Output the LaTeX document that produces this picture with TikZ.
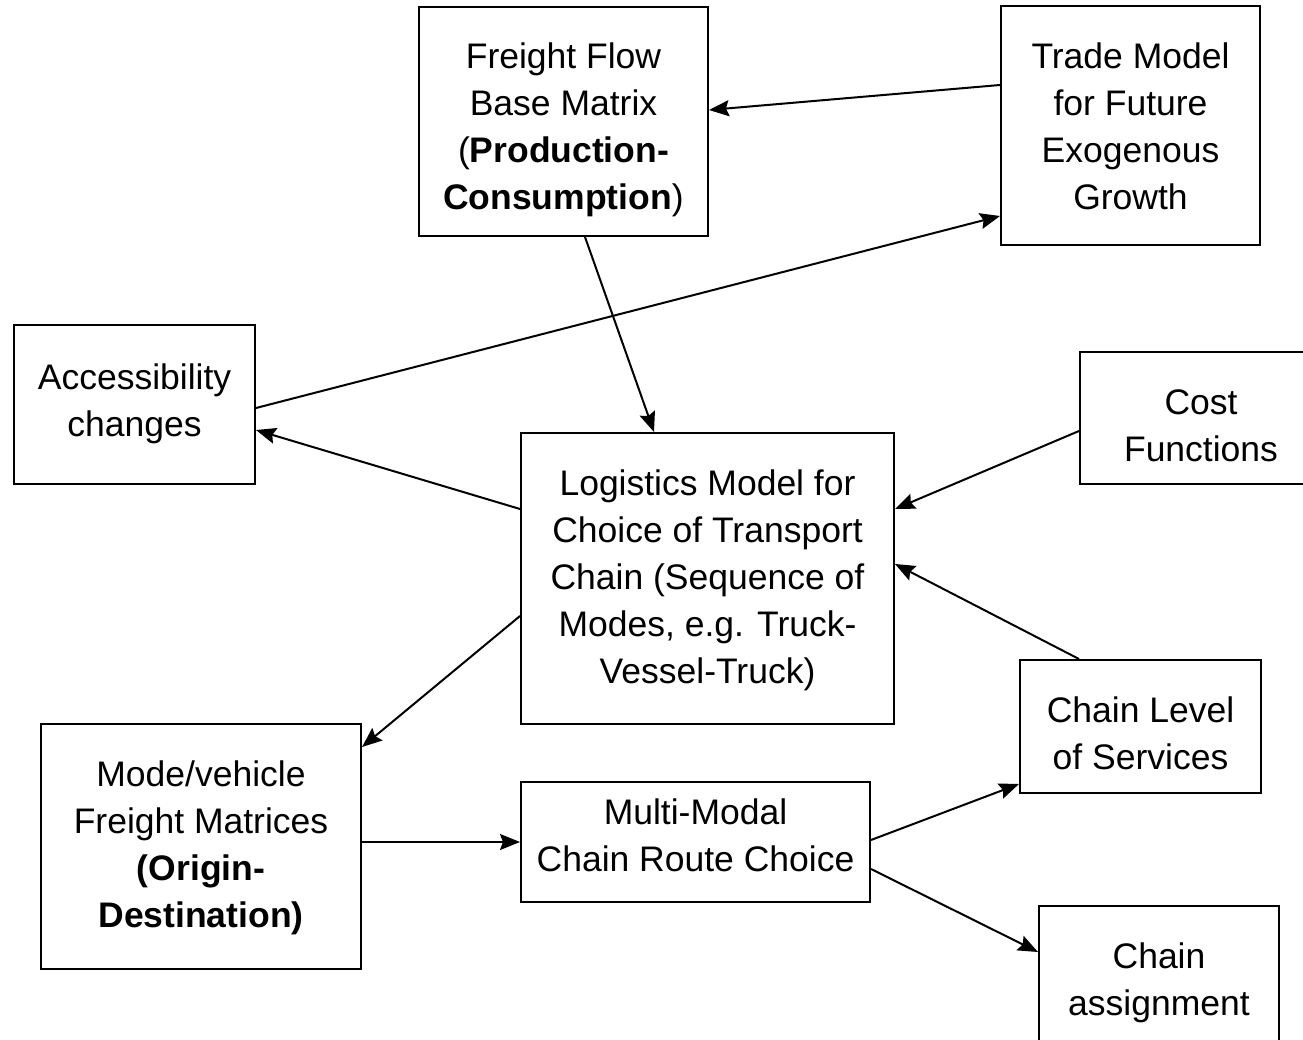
\documentclass[tikz,border=0pt]{standalone}
\usepackage{fontspec}
\setmainfont{Liberation Sans}
\usetikzlibrary{calc,arrows.meta}
\newcommand\boxtext[2]{\raisebox{\dimexpr-8pt-#1pt\relax}[0pt][0pt]{\begin{tabular}{@{}c@{}}#2\end{tabular}}}
\begin{document}
\begin{tikzpicture}[x=1pt,y=-1pt,
  box/.style={draw,line width=2pt,inner sep=0pt,font=\fontsize{35.5}{47}\selectfont},
  arr/.style={line width=2pt,-{Stealth[length=20pt,width=16pt,inset=3pt]}}]
\useasboundingbox (0,0) rectangle (1303,1040);
\clip (0,0) rectangle (1303,1040);
\fill[white] (0,0) rectangle (1303,1040);
\node[box,minimum width=289,minimum height=229] (ff) at (563.5,121.5)
  {\boxtext{6.5}{Freight Flow\\Base Matrix\\(\textbf{Production-}\\\textbf{Consumption})}};
\node[box,minimum width=259,minimum height=239] (trade) at (1130.5,125.5)
  {\boxtext{2.5}{Trade Model\\for Future\\Exogenous\\Growth}};
\node[box,minimum width=241,minimum height=159] (acc) at (134.5,404.5)
  {\boxtext{-3}{Accessibility\\changes}};
\node[box,minimum width=242,minimum height=132] (cost) at (1201,418)
  {\boxtext{9}{Cost\\Functions}};
\node[box,minimum width=373,minimum height=291] (log) at (707.5,578.5)
  {\boxtext{0}{Logistics Model for\\Choice of Transport\\Chain (Sequence of\\Modes, e.g. Truck-\\Vessel-Truck)}};
\node[box,minimum width=241,minimum height=133] (cl) at (1140.5,726.5)
  {\boxtext{8}{Chain Level\\of Services}};
\node[box,minimum width=320,minimum height=245] (mode) at (201,846.5)
  {\boxtext{-1}{Mode/vehicle\\Freight Matrices\\\textbf{(Origin-}\\\textbf{Destination)}}};
\node[box,minimum width=349,minimum height=120] (mm) at (695.5,842)
  {\boxtext{-5}{Multi-Modal\\Chain Route Choice}};
\node[box,minimum width=240,minimum height=150] (ca) at (1159,981)
  {\boxtext{0}{Chain\\assignment}};
\draw[arr] ($(trade.north west)+(0,80)$) -- ($(ff.north east)+(0,104)$);
\draw[arr] ($(acc.north east)+(0,84)$) -- ($(trade.north west)+(0,211)$);
\draw[arr] ($(ff.south west)+(167,0)$) -- ($(log.north west)+(134,0)$);
\draw[arr] ($(log.north west)+(0,77)$) -- ($(acc.north east)+(0,106)$);
\draw[arr] ($(cost.north west)+(0,80)$) -- ($(log.north east)+(0,77)$);
\draw[arr] ($(cl.north west)+(60,0)$) -- ($(log.north east)+(0,132)$);
\draw[arr] ($(log.north west)+(0,184)$) -- ($(mode.north east)+(0,24)$);
\draw[arr] ($(mode.north east)+(0,119)$) -- ($(mm.north west)+(0,61)$);
\draw[arr] ($(mm.north east)+(0,59)$) -- ($(cl.south west)+(0,-10)$);
\draw[arr] ($(mm.north east)+(0,88)$) -- ($(ca.north west)+(0,47)$);
\end{tikzpicture}
\end{document}
